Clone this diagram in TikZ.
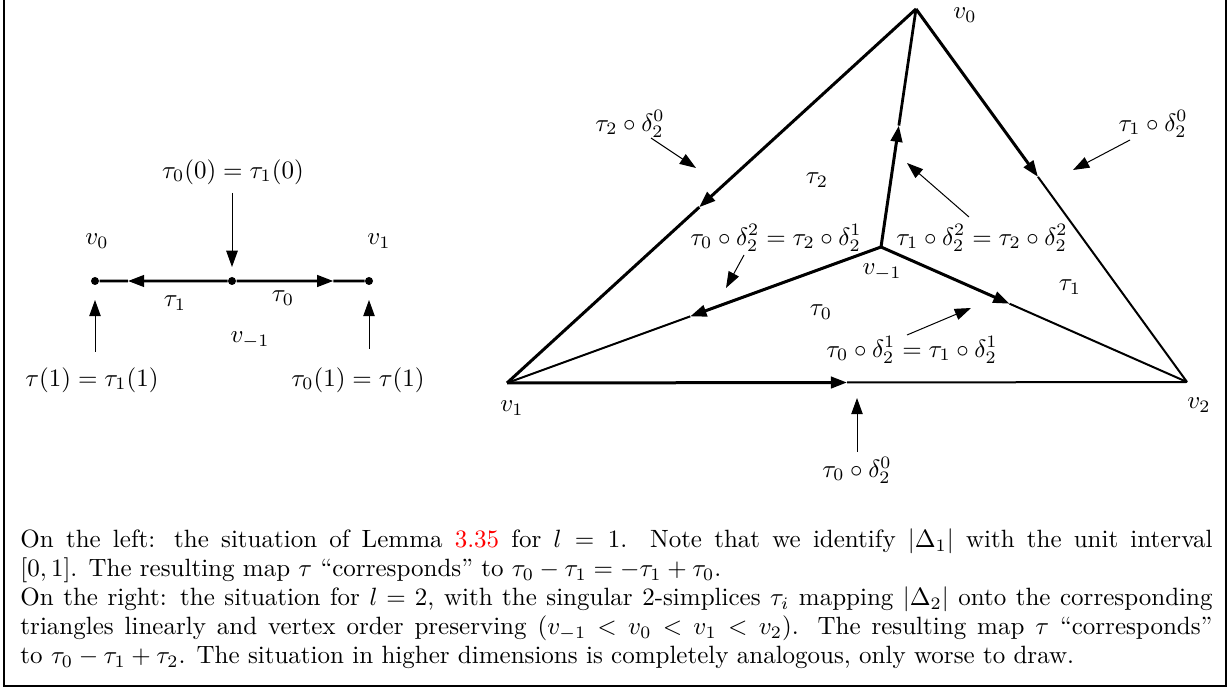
\documentclass[tikz,border=0pt]{standalone}
\usetikzlibrary{arrows.meta,calc}
\begin{document}
\begin{tikzpicture}[x=0.4pt,y=-0.4pt,
  tip/.style={-{Triangle[length=6.5pt,width=4.6pt]}},
  edgeA/.style={line width=1.2pt,tip},
  edgeB/.style={line width=0.8pt},
  ann/.style={line width=0.4pt,tip},
  seg/.style={line width=1.1pt},
  dotn/.style={circle,fill,inner sep=0pt,minimum size=3.2pt},
  lab/.style={inner sep=0pt},
  frame/.style={line width=0.6pt}]
\useasboundingbox (0,0) rectangle (1232,691);
\draw[frame] (4,0) -- (4,686) -- (1226,686) -- (1226,0);

% ---------- left figure ----------
\node[dotn] (L0) at (95,281) {};
\node[dotn] (M) at (232,281) {};
\node[dotn] (L1) at (369,281) {};
\draw[seg,tip] (M) -- ($(M)!0.76!(L0)$);
\draw[seg] ($(M)!0.76!(L0)$) -- (L0);
\draw[seg,tip] (M) -- ($(M)!0.74!(L1)$);
\draw[seg] ($(M)!0.74!(L1)$) -- (L1);
\node[lab] (lv0) at (97,241) {$v_0$};
\node[lab] (lv1) at (379,241) {$v_1$};
\node[lab] (lt1) at (175,303) {$\tau_1$};
\node[lab] (lt0) at (283,298) {$\tau_0$};
\node[lab] (lvm) at (250,340) {$v_{-1}$};
\node[lab] (ltop) at (233,172) {$\tau_0(0)=\tau_1(0)$};
\node[lab] (lbl) at (92,380) {$\tau(1)=\tau_1(1)$};
\node[lab] (lbr) at (358,380) {$\tau_0(1)=\tau(1)$};
\coordinate (a1s) at (232,193); \coordinate (a1e) at (232,267);
\coordinate (a2s) at (95,352);  \coordinate (a2e) at (95,300);
\coordinate (a3s) at (369,349); \coordinate (a3e) at (369,300);
\draw[ann] (a1s) -- (a1e);
\draw[ann] (a2s) -- (a2e);
\draw[ann] (a3s) -- (a3e);

% ---------- right figure ----------
\coordinate (V0) at (916,9);
\coordinate (V1) at (507,383);
\coordinate (V2) at (1187,382);
\coordinate (VM) at (881,247);
% outer edges
\draw[edgeA] (V0) -- ($(V0)!0.53!(V1)$);
\draw[line width=1.2pt] ($(V0)!0.53!(V1)$) -- (V1);
\draw[edgeA] (V0) -- ($(V0)!0.45!(V2)$);
\draw[edgeB] ($(V0)!0.45!(V2)$) -- (V2);
\draw[edgeA] (V1) -- ($(V1)!0.50!(V2)$);
\draw[edgeB] ($(V1)!0.50!(V2)$) -- (V2);
% inner edges
\draw[edgeA] (VM) -- ($(VM)!0.51!(V0)$);
\draw[line width=1.1pt] ($(VM)!0.51!(V0)$) -- (V0);
\draw[edgeA] (VM) -- ($(VM)!0.51!(V1)$);
\draw[edgeB] ($(VM)!0.51!(V1)$) -- (V1);
\draw[edgeA] (VM) -- ($(VM)!0.42!(V2)$);
\draw[edgeB] ($(VM)!0.42!(V2)$) -- (V2);

\node[lab] (rv0) at (965,15) {$v_0$};
\node[lab] (rv1) at (512,408) {$v_1$};
\node[lab] (rv2) at (1199,405) {$v_2$};
\node[lab] (rvm) at (882,272) {$v_{-1}$};
\node[lab] (rt2) at (817,180) {$\tau_2$};
\node[lab] (rt1) at (1070,287) {$\tau_1$};
\node[lab] (rt0) at (821,312) {$\tau_0$};
\node[lab] (f1) at (630,124) {$\tau_2\circ\delta_2^0$};
\node[lab] (f2) at (1153,124) {$\tau_1\circ\delta_2^0$};
\node[lab] (f3) at (776,238) {$\tau_0\circ\delta_2^2=\tau_2\circ\delta_2^1$};
\node[lab] (f4) at (982,238) {$\tau_1\circ\delta_2^2=\tau_2\circ\delta_2^2$};
\node[lab] (f5) at (912,350) {$\tau_0\circ\delta_2^1=\tau_1\circ\delta_2^1$};
\node[lab] (f6) at (857,470) {$\tau_0\circ\delta_2^0$};

\coordinate (b1s) at (651,138);  \coordinate (b1e) at (696,168);
\coordinate (b2s) at (1130,140); \coordinate (b2e) at (1073,170);
\coordinate (b3s) at (969,217);  \coordinate (b3e) at (907,163);
\coordinate (b4s) at (744,255);  \coordinate (b4e) at (726,288);
\coordinate (b5s) at (907,335);  \coordinate (b5e) at (971,308);
\coordinate (b6s) at (857,452);  \coordinate (b6e) at (857,398);
\draw[ann] (b1s) -- (b1e);
\draw[ann] (b2s) -- (b2e);
\draw[ann] (b3s) -- (b3e);
\draw[ann] (b4s) -- (b4e);
\draw[ann] (b5s) -- (b5e);
\draw[ann] (b6s) -- (b6e);

% ---------- caption ----------
\node[anchor=north west,inner sep=0pt,text width=476.8pt,align=justify,
  font=\fontsize{10}{11.6}\selectfont] (cap) at (20,528)
{On the left: the situation of Lemma \textcolor{red}{3.35} for $l=1$. Note that we identify $|\Delta_1|$ with the unit interval\linebreak $[0,1]$. The resulting map $\tau$ ``corresponds'' to $\tau_0-\tau_1=-\tau_1+\tau_0$.\\
On the right: the situation for $l=2$, with the singular 2-simplices $\tau_i$ mapping $|\Delta_2|$ onto the corresponding triangles linearly and vertex order preserving $(v_{-1}<v_0<v_1<v_2)$. The resulting map $\tau$ ``corresponds''\linebreak to $\tau_0-\tau_1+\tau_2$. The situation in higher dimensions is completely analogous, only worse to draw.};
\end{tikzpicture}
\end{document}
